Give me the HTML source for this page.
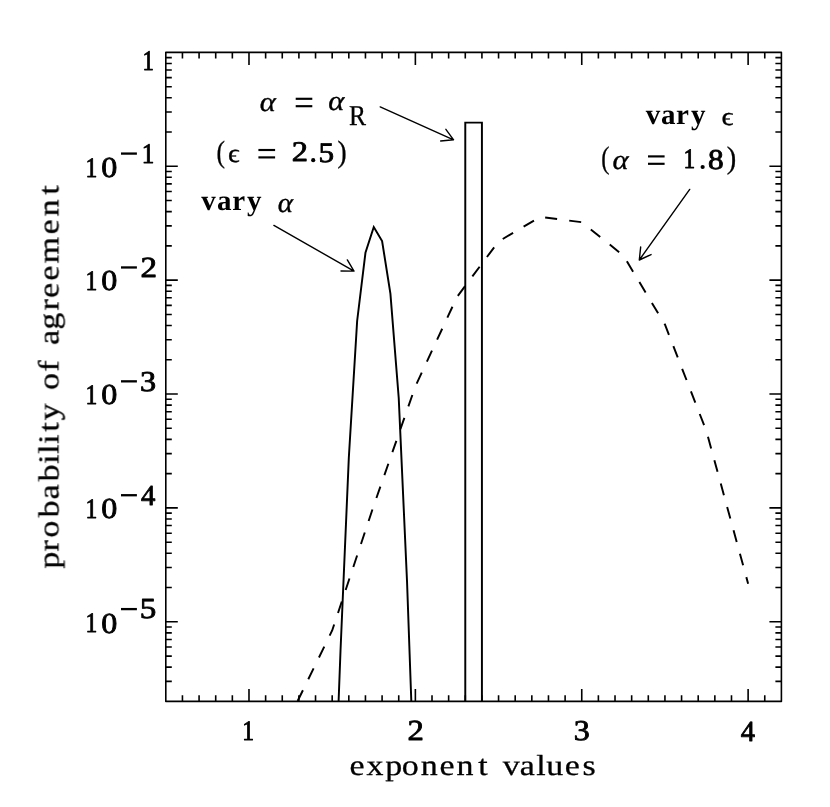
<!DOCTYPE html>
<html><head><meta charset="utf-8"><title>plot</title>
<style>html,body{margin:0;padding:0;background:#fff;}svg{display:block;position:absolute;left:0;top:0;}text{font-family:"Liberation Serif",serif;fill:#000;text-rendering:geometricPrecision;}</style></head><body>
<svg width="830" height="807" viewBox="0 0 830 807">
<rect width="830" height="807" fill="#fff"/>
<path d="M182.44 701.40v-6.20M182.44 52.40v6.20M199.08 701.40v-6.20M199.08 52.40v6.20M215.71 701.40v-6.20M215.71 52.40v6.20M232.35 701.40v-6.20M232.35 52.40v6.20M248.99 701.40v-12.50M248.99 52.40v12.50M265.63 701.40v-6.20M265.63 52.40v6.20M282.26 701.40v-6.20M282.26 52.40v6.20M298.90 701.40v-6.20M298.90 52.40v6.20M315.54 701.40v-6.20M315.54 52.40v6.20M332.18 701.40v-6.20M332.18 52.40v6.20M348.82 701.40v-6.20M348.82 52.40v6.20M365.45 701.40v-6.20M365.45 52.40v6.20M382.09 701.40v-6.20M382.09 52.40v6.20M398.73 701.40v-6.20M398.73 52.40v6.20M415.37 701.40v-12.50M415.37 52.40v12.50M432.01 701.40v-6.20M432.01 52.40v6.20M448.64 701.40v-6.20M448.64 52.40v6.20M465.28 701.40v-6.20M465.28 52.40v6.20M481.92 701.40v-6.20M481.92 52.40v6.20M498.56 701.40v-6.20M498.56 52.40v6.20M515.19 701.40v-6.20M515.19 52.40v6.20M531.83 701.40v-6.20M531.83 52.40v6.20M548.47 701.40v-6.20M548.47 52.40v6.20M565.11 701.40v-6.20M565.11 52.40v6.20M581.75 701.40v-12.50M581.75 52.40v12.50M598.38 701.40v-6.20M598.38 52.40v6.20M615.02 701.40v-6.20M615.02 52.40v6.20M631.66 701.40v-6.20M631.66 52.40v6.20M648.30 701.40v-6.20M648.30 52.40v6.20M664.94 701.40v-6.20M664.94 52.40v6.20M681.57 701.40v-6.20M681.57 52.40v6.20M698.21 701.40v-6.20M698.21 52.40v6.20M714.85 701.40v-6.20M714.85 52.40v6.20M731.49 701.40v-6.20M731.49 52.40v6.20M748.12 701.40v-12.50M748.12 52.40v12.50M764.76 701.40v-6.20M764.76 52.40v6.20M165.80 166.28h12.00M781.40 166.28h-12.00M165.80 132.00h6.00M781.40 132.00h-6.00M165.80 111.95h6.00M781.40 111.95h-6.00M165.80 97.72h6.00M781.40 97.72h-6.00M165.80 86.68h6.00M781.40 86.68h-6.00M165.80 77.66h6.00M781.40 77.66h-6.00M165.80 70.04h6.00M781.40 70.04h-6.00M165.80 63.44h6.00M781.40 63.44h-6.00M165.80 57.61h6.00M781.40 57.61h-6.00M165.80 280.16h12.00M781.40 280.16h-12.00M165.80 245.88h6.00M781.40 245.88h-6.00M165.80 225.83h6.00M781.40 225.83h-6.00M165.80 211.60h6.00M781.40 211.60h-6.00M165.80 200.56h6.00M781.40 200.56h-6.00M165.80 191.54h6.00M781.40 191.54h-6.00M165.80 183.92h6.00M781.40 183.92h-6.00M165.80 177.32h6.00M781.40 177.32h-6.00M165.80 171.49h6.00M781.40 171.49h-6.00M165.80 394.04h12.00M781.40 394.04h-12.00M165.80 359.76h6.00M781.40 359.76h-6.00M165.80 339.71h6.00M781.40 339.71h-6.00M165.80 325.48h6.00M781.40 325.48h-6.00M165.80 314.44h6.00M781.40 314.44h-6.00M165.80 305.42h6.00M781.40 305.42h-6.00M165.80 297.80h6.00M781.40 297.80h-6.00M165.80 291.20h6.00M781.40 291.20h-6.00M165.80 285.37h6.00M781.40 285.37h-6.00M165.80 507.92h12.00M781.40 507.92h-12.00M165.80 473.64h6.00M781.40 473.64h-6.00M165.80 453.59h6.00M781.40 453.59h-6.00M165.80 439.36h6.00M781.40 439.36h-6.00M165.80 428.32h6.00M781.40 428.32h-6.00M165.80 419.30h6.00M781.40 419.30h-6.00M165.80 411.68h6.00M781.40 411.68h-6.00M165.80 405.08h6.00M781.40 405.08h-6.00M165.80 399.25h6.00M781.40 399.25h-6.00M165.80 621.80h12.00M781.40 621.80h-12.00M165.80 587.52h6.00M781.40 587.52h-6.00M165.80 567.47h6.00M781.40 567.47h-6.00M165.80 553.24h6.00M781.40 553.24h-6.00M165.80 542.20h6.00M781.40 542.20h-6.00M165.80 533.19h6.00M781.40 533.19h-6.00M165.80 525.56h6.00M781.40 525.56h-6.00M165.80 518.96h6.00M781.40 518.96h-6.00M165.80 513.13h6.00M781.40 513.13h-6.00M165.80 681.35h6.00M781.40 681.35h-6.00M165.80 667.12h6.00M781.40 667.12h-6.00M165.80 656.08h6.00M781.40 656.08h-6.00M165.80 647.07h6.00M781.40 647.07h-6.00M165.80 639.44h6.00M781.40 639.44h-6.00M165.80 632.84h6.00M781.40 632.84h-6.00M165.80 627.01h6.00M781.40 627.01h-6.00" stroke="#000" stroke-width="1.6" fill="none"/>
<rect x="165.8" y="52.4" width="615.60" height="649.00" fill="none" stroke="#000" stroke-width="1.6" stroke-linejoin="round"/>
<clipPath id="c"><rect x="165.8" y="52.4" width="615.60" height="649.00"/></clipPath>
<path d="M465.28 701.4V122.6H481.92V701.4" fill="none" stroke="#000" stroke-width="1.95" stroke-linejoin="miter"/>
<path d="M332.18 870.00 L340.50 651.00 L348.82 457.80 L357.14 321.00 L365.45 252.80 L373.77 227.00 L382.09 241.00 L390.41 293.60 L398.73 398.00 L407.05 582.00 L415.37 815.00" fill="none" stroke="#000" stroke-width="1.95" clip-path="url(#c)" stroke-linejoin="miter" stroke-miterlimit="10"/>
<path id="dash" d="M290.58 715.40 L332.18 630.50 L373.77 505.50 L415.37 386.40 L456.96 297.00 L498.56 241.50 L540.15 216.90 L581.75 222.20 L623.34 255.50 L664.94 324.50 L706.53 431.50 L748.12 583.70" fill="none" stroke="#000" stroke-width="1.95" stroke-dasharray="12.05 12.2" stroke-dashoffset="8.24" clip-path="url(#c)"/>
<path d="M380.20 106.90L453.60 139.80M440.66 141.01L453.60 139.80L445.89 129.33" fill="none" stroke="#000" stroke-width="1.4" stroke-linejoin="round" stroke-linecap="round"/>
<path d="M273.90 225.40L354.00 271.10M341.00 271.05L354.00 271.10L347.34 259.93" fill="none" stroke="#000" stroke-width="1.4" stroke-linejoin="round" stroke-linecap="round"/>
<path d="M689.70 189.40L639.30 260.00M640.66 247.07L639.30 260.00L651.08 254.51" fill="none" stroke="#000" stroke-width="1.4" stroke-linejoin="round" stroke-linecap="round"/>
<g opacity="0.999">
<text transform="translate(0,775.1) scale(1.17,1)" x="298.80 313.27 329.24 343.35 359.60 375.55 390.20 408.69 419.16 429.63 444.32 458.24 466.95 482.77 497.88" y="0" font-size="29" font-weight="normal" stroke="#000" stroke-width="0.3" stroke-linejoin="round">exponent values</text>
<text transform="translate(58.4,568.0) rotate(-90) scale(1.17,1)" x="-0.55 14.11 25.87 43.13 58.72 74.03 89.06 97.60 106.03 116.47 126.09 139.12 152.15 167.89 179.25 190.60 203.81 220.18 230.85 245.64 260.22 285.21 300.46 318.99" y="0" font-size="29" font-weight="normal" stroke="#000" stroke-width="0.3" stroke-linejoin="round">probability of agreement</text>
<text transform="translate(0,210.4) scale(1.0,1)" x="201.30 216.90 232.19 247.05" y="0" font-size="29" font-weight="bold">vary</text>
<text transform="translate(0,124.2) scale(1.0,1)" x="645.70 661.10 675.94 690.90" y="0" font-size="29" font-weight="bold">vary</text>
<text transform="translate(242.30,740.35) scale(0.8374,1)" stroke="#000" stroke-width="0.95" stroke-linejoin="round" font-size="28.21" font-weight="normal" font-style="normal">1</text>
<text transform="translate(407.40,740.35) scale(1.1267,1)" stroke="#000" stroke-width="0.85" stroke-linejoin="round" font-size="29.06" font-weight="normal" font-style="normal">2</text>
<text transform="translate(573.63,740.37) scale(1.1158,1)" stroke="#000" stroke-width="0.85" stroke-linejoin="round" font-size="28.68" font-weight="normal" font-style="normal">3</text>
<text transform="translate(740.77,740.72) scale(0.9806,1)" stroke="#000" stroke-width="0.85" stroke-linejoin="round" font-size="29.10" font-weight="normal" font-style="normal">4</text>
<text transform="translate(142.60,70.23) scale(0.8069,1)" stroke="#000" stroke-width="0.95" stroke-linejoin="round" font-size="28.26" font-weight="normal" font-style="normal">1</text>
<text transform="translate(85.45,176.84) scale(0.8345,1)" stroke="#000" stroke-width="0.95" stroke-linejoin="round" font-size="28.20" font-weight="normal" font-style="normal">1</text>
<text transform="translate(101.29,176.77) scale(1.1012,1)" stroke="#000" stroke-width="0.85" stroke-linejoin="round" font-size="29.13" font-weight="normal" font-style="normal">0</text>
<text transform="translate(141.66,162.90) scale(0.8828,1)" stroke="#000" stroke-width="0.95" stroke-linejoin="round" font-size="28.33" font-weight="normal" font-style="normal">1</text>
<text transform="translate(85.45,290.25) scale(0.8345,1)" stroke="#000" stroke-width="0.95" stroke-linejoin="round" font-size="28.20" font-weight="normal" font-style="normal">1</text>
<text transform="translate(101.29,290.18) scale(1.1012,1)" stroke="#000" stroke-width="0.85" stroke-linejoin="round" font-size="29.13" font-weight="normal" font-style="normal">0</text>
<text transform="translate(140.38,276.69) scale(1.1356,1)" stroke="#000" stroke-width="0.85" stroke-linejoin="round" font-size="29.10" font-weight="normal" font-style="normal">2</text>
<text transform="translate(85.45,404.35) scale(0.8345,1)" stroke="#000" stroke-width="0.95" stroke-linejoin="round" font-size="28.20" font-weight="normal" font-style="normal">1</text>
<text transform="translate(101.29,404.29) scale(1.1012,1)" stroke="#000" stroke-width="0.85" stroke-linejoin="round" font-size="29.13" font-weight="normal" font-style="normal">0</text>
<text transform="translate(140.12,390.71) scale(1.1201,1)" stroke="#000" stroke-width="0.85" stroke-linejoin="round" font-size="28.77" font-weight="normal" font-style="normal">3</text>
<text transform="translate(85.45,518.46) scale(0.8345,1)" stroke="#000" stroke-width="0.95" stroke-linejoin="round" font-size="28.20" font-weight="normal" font-style="normal">1</text>
<text transform="translate(101.29,518.39) scale(1.1012,1)" stroke="#000" stroke-width="0.85" stroke-linejoin="round" font-size="29.13" font-weight="normal" font-style="normal">0</text>
<text transform="translate(141.11,504.52) scale(0.9900,1)" stroke="#000" stroke-width="0.85" stroke-linejoin="round" font-size="29.07" font-weight="normal" font-style="normal">4</text>
<text transform="translate(85.45,631.87) scale(0.8345,1)" stroke="#000" stroke-width="0.95" stroke-linejoin="round" font-size="28.20" font-weight="normal" font-style="normal">1</text>
<text transform="translate(101.29,632.50) scale(1.1012,1)" stroke="#000" stroke-width="0.85" stroke-linejoin="round" font-size="29.13" font-weight="normal" font-style="normal">0</text>
<text transform="translate(139.83,618.37) scale(1.1430,1)" stroke="#000" stroke-width="0.85" stroke-linejoin="round" font-size="28.99" font-weight="normal" font-style="normal">5</text>
<text transform="translate(259.83,110.59) scale(1.0993,1)" stroke="#000" stroke-width="0.35" stroke-linejoin="round" font-size="27.84" font-weight="normal" font-style="italic">α</text>
<text transform="translate(328.27,110.49) scale(1.1066,1)" stroke="#000" stroke-width="0.35" stroke-linejoin="round" font-size="27.88" font-weight="normal" font-style="italic">α</text>
<text transform="translate(348.90,124.70) scale(0.8855,1)" stroke="#000" stroke-width="0.3" stroke-linejoin="round" font-size="28.81" font-weight="normal" font-style="normal">R</text>
<text transform="translate(216.40,161.61) scale(0.8253,1)" stroke="#000" stroke-width="0.35" stroke-linejoin="round" font-size="30.82" font-weight="normal" font-style="normal">(</text>
<text transform="translate(227.95,162.37) scale(1.1070,1)" stroke="#000" stroke-width="0.35" stroke-linejoin="round" font-size="26.03" font-weight="normal" font-style="normal">ϵ</text>
<text transform="translate(291.86,161.41) scale(1.1462,1)" stroke="#000" stroke-width="0.85" stroke-linejoin="round" font-size="28.33" font-weight="normal" font-style="normal">2</text>
<text transform="translate(318.42,161.53) scale(1.0965,1)" stroke="#000" stroke-width="0.85" stroke-linejoin="round" font-size="28.43" font-weight="normal" font-style="normal">5</text>
<text transform="translate(337.47,161.69) scale(0.8897,1)" stroke="#000" stroke-width="0.35" stroke-linejoin="round" font-size="30.84" font-weight="normal" font-style="normal">)</text>
<text transform="translate(277.77,211.77) scale(1.0438,1)" stroke="#000" stroke-width="0.35" stroke-linejoin="round" font-size="27.94" font-weight="normal" font-style="italic">α</text>
<text transform="translate(721.58,124.72) scale(1.1458,1)" stroke="#000" stroke-width="0.35" stroke-linejoin="round" font-size="25.79" font-weight="normal" font-style="normal">ϵ</text>
<text transform="translate(601.16,167.56) scale(0.7838,1)" stroke="#000" stroke-width="0.35" stroke-linejoin="round" font-size="31.11" font-weight="normal" font-style="normal">(</text>
<text transform="translate(612.40,168.66) scale(1.1002,1)" stroke="#000" stroke-width="0.35" stroke-linejoin="round" font-size="27.97" font-weight="normal" font-style="italic">α</text>
<text transform="translate(683.39,168.41) scale(0.8300,1)" stroke="#000" stroke-width="0.95" stroke-linejoin="round" font-size="28.12" font-weight="normal" font-style="normal">1</text>
<text transform="translate(707.98,168.63) scale(1.0963,1)" stroke="#000" stroke-width="0.85" stroke-linejoin="round" font-size="28.56" font-weight="normal" font-style="normal">8</text>
<text transform="translate(726.75,167.55) scale(0.9132,1)" stroke="#000" stroke-width="0.35" stroke-linejoin="round" font-size="31.12" font-weight="normal" font-style="normal">)</text>
</g>
<rect x="121.00" y="152.43" width="15.90" height="2.30" fill="#000"/>
<rect x="121.00" y="266.31" width="15.90" height="2.30" fill="#000"/>
<rect x="121.00" y="380.19" width="15.90" height="2.30" fill="#000"/>
<rect x="121.00" y="494.07" width="15.90" height="2.30" fill="#000"/>
<rect x="121.00" y="607.95" width="15.90" height="2.30" fill="#000"/>
<rect x="295.70" y="97.72" width="16.60" height="2.15" fill="#000"/>
<rect x="295.70" y="105.12" width="16.60" height="2.15" fill="#000"/>
<rect x="258.40" y="148.93" width="16.70" height="2.15" fill="#000"/>
<rect x="258.40" y="156.33" width="16.70" height="2.15" fill="#000"/>
<rect x="648.00" y="155.33" width="16.60" height="2.15" fill="#000"/>
<rect x="648.00" y="162.73" width="16.60" height="2.15" fill="#000"/>
<circle cx="313.2" cy="160.2" r="2.1" fill="#000"/>
<circle cx="702.65" cy="167.0" r="2.1" fill="#000"/>
</svg></body></html>
